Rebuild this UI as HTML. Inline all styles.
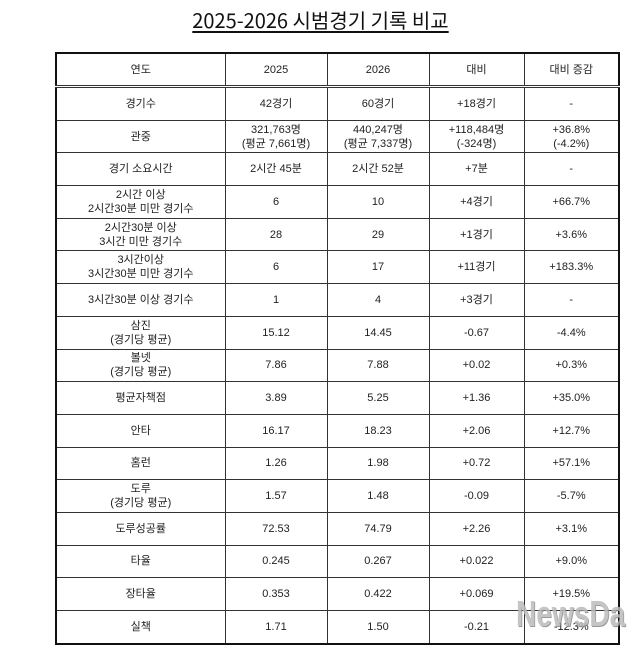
<!DOCTYPE html>
<html><head><meta charset="utf-8"><style>
body{margin:0;width:641px;height:654px;background:#fff;position:relative;overflow:hidden;font-family:"Liberation Sans","Noto Sans CJK KR",sans-serif;color:#222}
.t{position:absolute;left:0;width:641px;top:5px;text-align:center;font-size:20px;text-decoration:underline;text-underline-offset:3px;color:#111;font-family:"Noto Sans CJK KR",sans-serif}
table{position:absolute;left:55px;top:52px;border-collapse:collapse;border:2px solid #111}
td{border:1px solid #333;text-align:center;font-size:11px;line-height:14px;padding:0;height:31.7px}
tr.h td{height:31px;border-bottom:3px double #333}
.w{position:absolute;left:516px;top:593px;font-size:36px;font-weight:bold;color:#bbb;font-family:"Liberation Sans Narrow","Liberation Sans",sans-serif;transform:scaleX(0.78);transform-origin:left;opacity:.85;text-shadow:1px 1px 0 #888}
</style></head><body>
<div class="t">2025-2026 시범경기 기록 비교</div>
<table>
<colgroup><col style="width:169px"><col style="width:102px"><col style="width:102px"><col style="width:95px"><col style="width:95px"></colgroup>
<tr class="h"><td>연도</td><td>2025</td><td>2026</td><td>대비</td><td>대비 증감</td></tr>
<tr><td>경기수</td><td>42경기</td><td>60경기</td><td>+18경기</td><td>-</td></tr>
<tr><td>관중</td><td>321,763명<br>(평균 7,661명)</td><td>440,247명<br>(평균 7,337명)</td><td>+118,484명<br>(-324명)</td><td>+36.8%<br>(-4.2%)</td></tr>
<tr><td>경기 소요시간</td><td>2시간 45분</td><td>2시간 52분</td><td>+7분</td><td>-</td></tr>
<tr><td>2시간 이상<br>2시간30분 미만 경기수</td><td>6</td><td>10</td><td>+4경기</td><td>+66.7%</td></tr>
<tr><td>2시간30분 이상<br>3시간 미만 경기수</td><td>28</td><td>29</td><td>+1경기</td><td>+3.6%</td></tr>
<tr><td>3시간이상<br>3시간30분 미만 경기수</td><td>6</td><td>17</td><td>+11경기</td><td>+183.3%</td></tr>
<tr><td>3시간30분 이상 경기수</td><td>1</td><td>4</td><td>+3경기</td><td>-</td></tr>
<tr><td>삼진<br>(경기당 평균)</td><td>15.12</td><td>14.45</td><td>-0.67</td><td>-4.4%</td></tr>
<tr><td>볼넷<br>(경기당 평균)</td><td>7.86</td><td>7.88</td><td>+0.02</td><td>+0.3%</td></tr>
<tr><td>평균자책점</td><td>3.89</td><td>5.25</td><td>+1.36</td><td>+35.0%</td></tr>
<tr><td>안타</td><td>16.17</td><td>18.23</td><td>+2.06</td><td>+12.7%</td></tr>
<tr><td>홈런</td><td>1.26</td><td>1.98</td><td>+0.72</td><td>+57.1%</td></tr>
<tr><td>도루<br>(경기당 평균)</td><td>1.57</td><td>1.48</td><td>-0.09</td><td>-5.7%</td></tr>
<tr><td>도루성공률</td><td>72.53</td><td>74.79</td><td>+2.26</td><td>+3.1%</td></tr>
<tr><td>타율</td><td>0.245</td><td>0.267</td><td>+0.022</td><td>+9.0%</td></tr>
<tr><td>장타율</td><td>0.353</td><td>0.422</td><td>+0.069</td><td>+19.5%</td></tr>
<tr><td>실책</td><td>1.71</td><td>1.50</td><td>-0.21</td><td>-12.3%</td></tr>
</table>
<div class="w">NewsDa</div>
</body></html>
